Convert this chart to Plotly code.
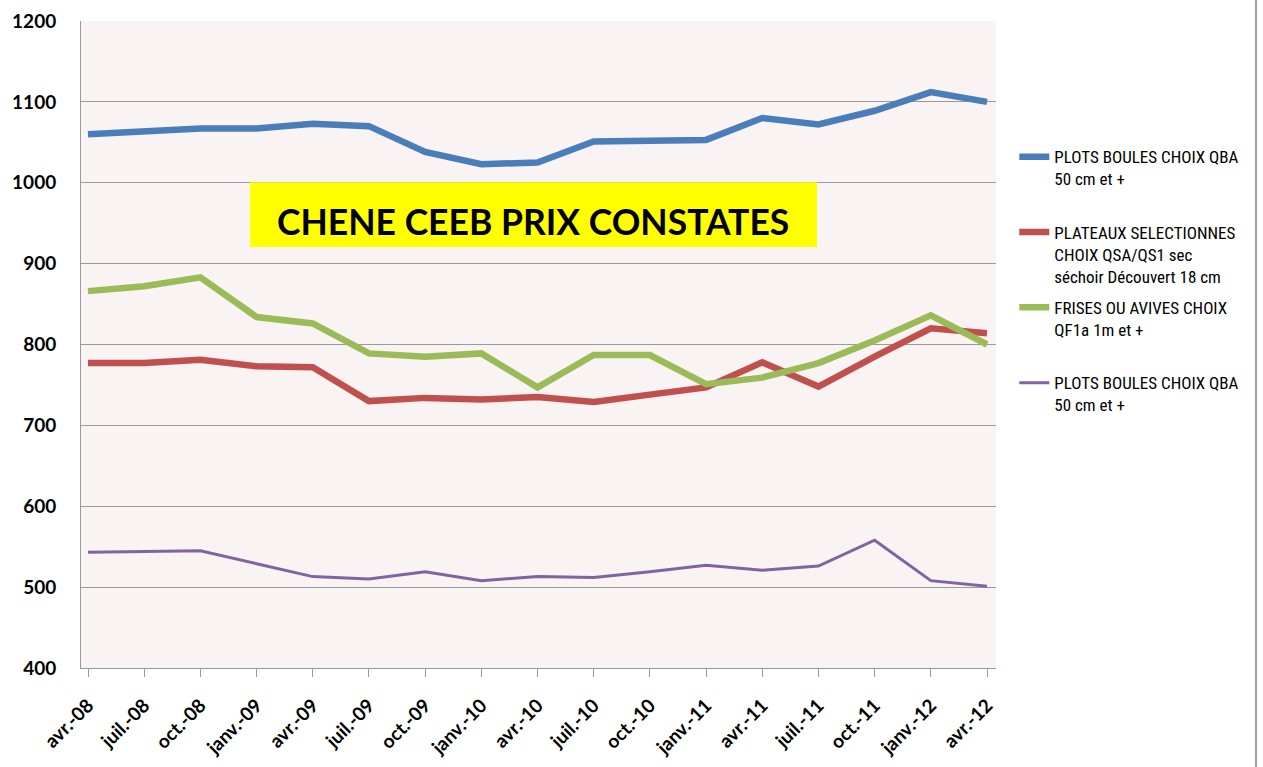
import plotly.graph_objects as go

months = ["avr.-08", "juil.-08", "oct.-08", "janv.-09", "avr.-09", "juil.-09", "oct.-09",
          "janv.-10", "avr.-10", "juil.-10", "oct.-10", "janv.-11", "avr.-11", "juil.-11",
          "oct.-11", "janv.-12", "avr.-12"]

plots_boules = [1060, 1063, 1067, 1067, 1073, 1070, 1038, 1023, 1025, 1051, 1051, 1053,
                1080, 1072, 1089, 1112, 1100]
plateaux = [777, 777, 781, 773, 772, 730, 734, 732, 735, 729, 738, 747, 778, 748, 785, 820, 814]
frises = [866, 872, 883, 834, 826, 789, 785, 789, 747, 787, 787, 751, 759, 777, 805, 836, 800]
plots_boules_2 = [543, 544, 545, 529, 513, 510, 519, 508, 513, 512, 519, 527, 521, 526, 558, 508, 501]

series_names = [
    "PLOTS BOULES CHOIX QBA<br>50 cm et +<br>\u00a0",
    "PLATEAUX SELECTIONNES<br>CHOIX QSA/QS1 sec<br>séchoir Découvert 18 cm",
    "FRISES OU AVIVES CHOIX<br>QF1a 1m et +<br>\u00a0",
    "PLOTS BOULES CHOIX QBA<br>50 cm et +",
]
series_values = [plots_boules, plateaux, frises, plots_boules_2]
colors = ["#4A7EBB", "#C0504D", "#9BBB59", "#8064A2"]
widths = [6.5, 6.5, 6.5, 3]

x = list(range(len(months)))

# plot area in page pixels: x 81..996, y 20.7..668.3
PW, PH = 915, 647.6
W, H = 1263, 767
GRAY = "#9A9A9A"

fig = go.Figure()
for i, (name, vals, col, w) in enumerate(zip(series_names, series_values, colors, widths)):
    fig.add_trace(go.Scatter(
        x=x, y=vals, mode="lines", name=name,
        line=dict(color=col, width=w),
        legendgroup=f"g{i}",
    ))

fig.update_layout(
    width=W, height=H,
    margin=dict(l=81, r=W - 81 - PW, t=20.7, b=H - 20.7 - PH, autoexpand=False),
    paper_bgcolor="white",
    plot_bgcolor="#F9F3F3",
    showlegend=True,
    legend=dict(
        x=1.02, xanchor="left", y=(668.3 - 139) / PH, yanchor="top",
        valign="top",
        tracegroupgap=6,
        font=dict(family="Liberation Sans Narrow, Roboto Condensed, Lato, sans-serif",
                  size=17, color="#000000"),
        bgcolor="rgba(0,0,0,0)",
    ),
    xaxis=dict(
        range=[-0.1246, 16.16],
        tickmode="array", tickvals=x, ticktext=months,
        tickangle=-45,
        tickfont=dict(family="Lato, sans-serif", size=19, color="#000000", weight="bold"),
        ticks="outside", ticklen=18, tickcolor="rgba(0,0,0,0)",
        minor=dict(tickmode="array", tickvals=x, ticks="outside", ticklen=8,
                   tickcolor=GRAY, showgrid=False),
        showline=True, linecolor=GRAY, linewidth=1,
        showgrid=False, zeroline=False, automargin=False,
    ),
    yaxis=dict(
        range=[400, 1200], dtick=100, tick0=400,
        tickfont=dict(family="Lato, sans-serif", size=19, color="#000000", weight="bold"),
        ticks="outside", ticklen=20, tickcolor="rgba(0,0,0,0)",
        minor=dict(dtick=100, tick0=400, ticks="outside", ticklen=8,
                   tickcolor=GRAY, showgrid=False),
        showline=True, linecolor=GRAY, linewidth=1,
        showgrid=True, gridcolor=GRAY, gridwidth=1,
        zeroline=False, automargin=False,
    ),
    shapes=[
        dict(type="rect", xref="paper", yref="paper",
             x0=(250 - 81) / PW, x1=(817 - 81) / PW,
             y0=(668.3 - 247) / PH, y1=(668.3 - 182) / PH,
             fillcolor="#FFFF00", line=dict(width=0), layer="above"),
        dict(type="line", xref="paper", yref="paper",
             x0=(1256 - 81) / PW, x1=(1256 - 81) / PW,
             y0=-0.2, y1=1.1, line=dict(color="#A0A0A0", width=2)),
    ],
    annotations=[
        dict(text="CHENE CEEB PRIX CONSTATES", xref="paper", yref="paper",
             x=(533 - 81) / PW, y=(668.3 - 221) / PH,
             xanchor="center", yanchor="middle", showarrow=False,
             font=dict(family="Lato, sans-serif", size=35.5, color="#000000", weight="bold")),
    ],
)

# remove the browser's default 8px body margin so the figure fills the window exactly
fig.write_html("out.html",
               config={"displayModeBar": False},
               post_script="document.body.style.margin='0';document.body.style.overflow='hidden';")
